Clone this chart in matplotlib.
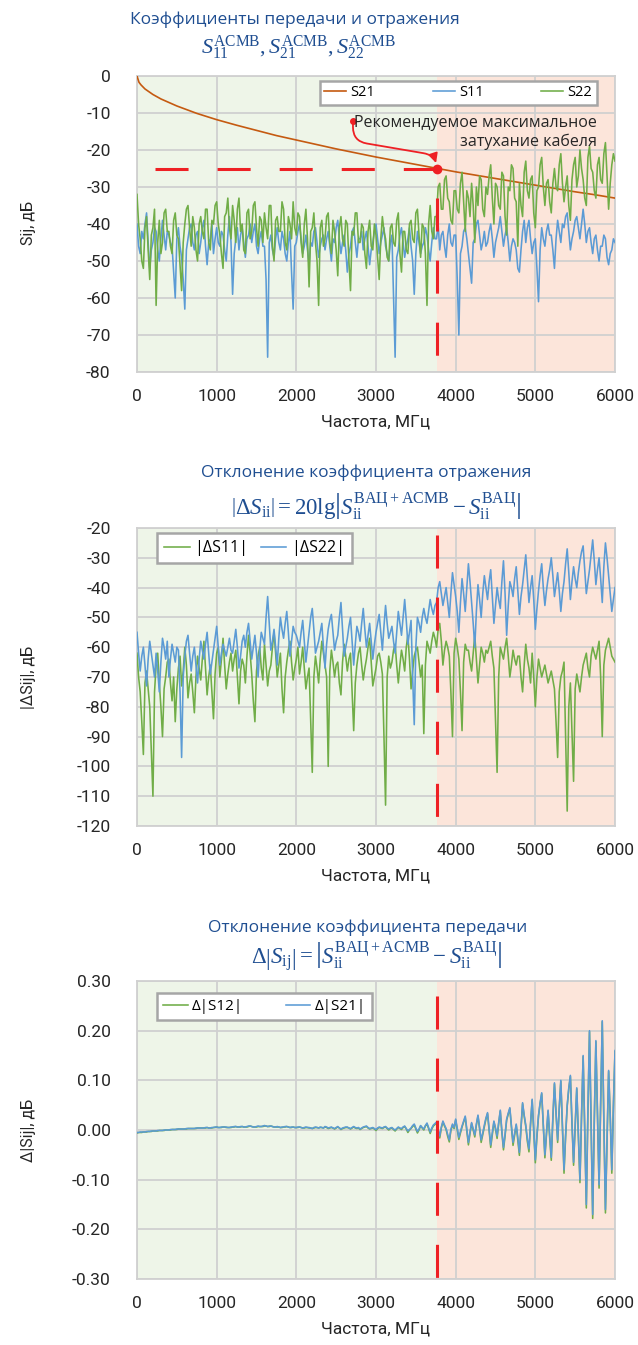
import numpy as np
import matplotlib
matplotlib.use("Agg")
import matplotlib.pyplot as plt

plt.rcParams['font.family'] = ['Open Sans', 'DejaVu Sans']
plt.rcParams['axes.unicode_minus'] = False
plt.rcParams['lines.scale_dashes'] = False
plt.rcParams['mathtext.fontset'] = 'custom'
plt.rcParams['mathtext.rm'] = 'Liberation Serif'
plt.rcParams['mathtext.it'] = 'Liberation Serif:italic'

# ---------------- данные ----------------
# S21: затухание кабеля (дБ)
s21_f = [0, 25, 50, 100, 200, 300, 500, 750, 1000, 1250, 1500, 1750, 2000, 2250, 2500,
         2750, 3000, 3250, 3500, 3750, 4000, 4250, 4500, 4750, 5000, 5250, 5500, 5750, 6000]
s21 = [0, -1.7, -2.4, -3.5, -5.0, -6.2, -8.1, -10.1, -11.8, -13.3, -14.7, -16.1, -17.3, -18.5, -19.7,
       -20.8, -21.9, -22.9, -23.9, -24.9, -25.9, -26.8, -27.7, -28.6, -29.5, -30.4, -31.3, -32.1, -33.0]

# шумовые кривые, шаг 20 МГц (по 400 МГц в строке)
freq = np.arange(0, 6001, 20)

s22 = [-32, -40, -44, -50, -52, -41, -38, -47, -55, -43, -41, -36, -62, -45, -39, -48, -45, -37, -36, -42,
       -42, -46, -48, -39, -37, -43, -44, -51, -58, -45, -40, -36, -35, -41, -46, -38, -41, -47, -50, -40,
       -38, -42, -44, -36, -36, -45, -47, -39, -40, -35, -34, -40, -43, -48, -52, -38, -37, -33, -41, -44,
       -35, -39, -45, -36, -33, -42, -40, -47, -48, -37, -36, -44, -42, -35, -34, -41, -46, -38, -39, -45,
       -37, -41, -44, -35, -35, -46, -50, -39, -38, -42, -42, -34, -36, -45, -47, -38, -40, -44, -34, -41,
       -43, -37, -38, -45, -49, -40, -36, -44, -57, -42, -41, -37, -45, -50, -62, -41, -39, -46, -44, -38,
       -37, -45, -48, -39, -42, -47, -54, -41, -38, -44, -46, -39, -40, -50, -58, -42, -43, -37, -37, -45,
       -45, -40, -41, -48, -52, -42, -39, -46, -47, -40, -43, -49, -55, -44, -38, -42, -44, -49, -50, -41,
       -40, -45, -46, -39, -37, -48, -53, -42, -42, -47, -48, -40, -39, -44, -45, -37, -36, -43, -49, -40,
       -41, -48, -62, -40, -35, -42, -44, -38, -38, -30, -29, -36, -36, -28, -27, -33, -34, -39, -40, -31,
       -31, -36, -37, -29, -26, -34, -42, -31, -33, -38, -29, -35, -45, -30, -35, -27, -28, -36, -38, -30,
       -32, -27, -24, -33, -40, -29, -30, -35, -36, -26, -27, -38, -43, -30, -31, -24, -25, -33, -34, -46,
       -29, -35, -38, -26, -23, -31, -33, -28, -27, -37, -41, -31, -30, -24, -22, -30, -35, -29, -28, -34,
       -37, -29, -25, -30, -31, -24, -21, -29, -34, -30, -27, -35, -39, -28, -24, -22, -30, -27, -20, -25,
       -28, -33, -35, -22, -19, -25, -26, -31, -33, -24, -22, -28, -29, -21, -18, -27, -36, -29, -24, -21,
       -23]

s11 = [-40, -46, -48, -42, -44, -40, -37, -45, -52, -47, -45, -41, -42, -47, -50, -44, -39, -43, -47, -42,
       -43, -45, -46, -53, -60, -44, -41, -46, -49, -55, -63, -47, -44, -41, -40, -45, -47, -43, -42, -48,
       -45, -41, -39, -46, -51, -45, -44, -40, -48, -44, -41, -45, -46, -42, -43, -47, -50, -43, -38, -45,
       -59, -48, -44, -41, -47, -43, -41, -45, -49, -44, -43, -40, -45, -42, -40, -46, -48, -44, -42, -46,
       -46, -55, -76, -45, -43, -47, -49, -44, -41, -45, -47, -42, -44, -48, -50, -45, -42, -53, -63, -46,
       -45, -42, -40, -44, -48, -46, -43, -47, -51, -45, -46, -42, -41, -45, -49, -46, -44, -43, -47, -44,
       -42, -46, -50, -44, -45, -41, -39, -44, -48, -45, -43, -47, -53, -48, -46, -42, -41, -45, -49, -44,
       -44, -42, -47, -44, -42, -46, -51, -47, -45, -42, -40, -44, -48, -45, -43, -41, -46, -48, -50, -45,
       -43, -60, -76, -49, -47, -43, -41, -45, -49, -46, -44, -41, -46, -50, -59, -48, -42, -45, -48, -46,
       -45, -41, -43, -47, -50, -45, -41, -44, -44, -40, -47, -43, -42, -46, -49, -43, -40, -45, -46, -43,
       -43, -55, -70, -48, -46, -42, -41, -44, -48, -52, -56, -45, -44, -40, -39, -43, -47, -45, -42, -46,
       -45, -42, -40, -44, -49, -45, -43, -41, -38, -42, -46, -43, -41, -45, -50, -46, -44, -45, -47, -52,
       -53, -47, -42, -39, -45, -41, -39, -44, -48, -45, -44, -52, -61, -47, -41, -44, -46, -42, -40, -43,
       -43, -47, -52, -44, -39, -42, -45, -40, -41, -38, -37, -42, -47, -44, -42, -39, -38, -41, -44, -40,
       -36, -40, -45, -42, -41, -45, -48, -44, -43, -47, -50, -46, -46, -43, -44, -49, -51, -48, -47, -44,
       -45]

ds11 = [-62, -70, -75, -85, -96, -72, -68, -74, -80, -95, -110, -75, -66, -62, -72, -80, -90, -74, -70, -65,
        -64, -72, -78, -70, -85, -74, -67, -63, -73, -68, -60, -66, -77, -72, -69, -75, -82, -70, -63, -67,
        -71, -64, -58, -67, -76, -70, -66, -75, -84, -69, -62, -60, -70, -64, -57, -66, -74, -69, -65, -62,
        -68, -64, -61, -70, -79, -68, -64, -66, -72, -63, -56, -62, -69, -78, -85, -68, -63, -60, -67, -71,
        -59, -66, -73, -68, -66, -60, -55, -62, -70, -66, -62, -74, -82, -70, -65, -61, -58, -65, -71, -67,
        -64, -60, -69, -65, -60, -67, -74, -70, -67, -85, -102, -70, -63, -67, -72, -64, -58, -62, -66, -70,
        -100, -68, -61, -65, -70, -66, -65, -72, -76, -65, -59, -63, -68, -64, -62, -75, -88, -72, -66, -62,
        -60, -66, -71, -67, -64, -60, -57, -65, -73, -70, -67, -63, -62, -65, -69, -90, -113, -70, -63, -67,
        -65, -61, -59, -66, -72, -66, -61, -64, -68, -60, -56, -64, -74, -68, -63, -61, -60, -65, -70, -66,
        -89, -66, -58, -60, -62, -58, -55, -57, -60, -54, -52, -58, -66, -61, -58, -60, -63, -75, -90, -62,
        -57, -60, -64, -75, -88, -65, -59, -61, -61, -65, -68, -62, -56, -64, -72, -66, -60, -62, -65, -61,
        -62, -60, -58, -63, -67, -85, -102, -70, -60, -62, -64, -60, -57, -63, -70, -66, -61, -64, -66, -63,
        -63, -70, -75, -66, -59, -64, -67, -72, -62, -70, -80, -70, -64, -67, -70, -68, -66, -69, -72, -70,
        -68, -71, -74, -85, -97, -75, -70, -68, -65, -90, -115, -80, -72, -88, -105, -74, -69, -72, -75, -70,
        -66, -64, -62, -67, -70, -63, -60, -62, -64, -61, -58, -70, -90, -66, -61, -59, -57, -60, -63, -64,
        -65]

ds22 = [-55, -62, -68, -63, -60, -66, -73, -64, -58, -62, -66, -70, -62, -68, -75, -65, -57, -60, -64, -58,
        -70, -64, -59, -62, -65, -60, -61, -75, -97, -70, -63, -58, -56, -62, -68, -63, -60, -66, -72, -64,
        -58, -61, -64, -59, -55, -62, -69, -65, -61, -57, -53, -60, -66, -62, -59, -61, -63, -60, -57, -61,
        -62, -58, -54, -60, -67, -63, -58, -56, -60, -55, -52, -58, -64, -60, -56, -62, -70, -61, -55, -57,
        -59, -50, -43, -52, -61, -58, -54, -60, -66, -57, -50, -54, -57, -52, -48, -55, -63, -58, -53, -55,
        -56, -58, -60, -55, -51, -58, -65, -60, -55, -50, -47, -54, -62, -60, -58, -55, -52, -60, -67, -59,
        -54, -51, -49, -55, -61, -58, -56, -50, -45, -54, -63, -60, -57, -53, -50, -58, -66, -59, -53, -55,
        -58, -52, -47, -54, -60, -56, -52, -58, -64, -59, -55, -52, -49, -55, -61, -53, -46, -52, -57, -55,
        -53, -58, -62, -55, -48, -52, -56, -50, -44, -51, -59, -55, -51, -70, -86, -60, -50, -52, -55, -50,
        -47, -50, -52, -48, -44, -47, -49, -46, -45, -40, -38, -42, -46, -43, -40, -45, -50, -42, -35, -39,
        -43, -48, -55, -45, -37, -42, -48, -40, -32, -38, -45, -52, -60, -48, -39, -44, -50, -42, -36, -40,
        -44, -38, -34, -43, -52, -46, -40, -44, -47, -38, -31, -42, -56, -46, -38, -40, -43, -37, -33, -41,
        -49, -43, -39, -34, -29, -37, -45, -40, -36, -44, -54, -47, -41, -36, -32, -40, -46, -41, -37, -34,
        -30, -36, -43, -39, -35, -41, -48, -42, -38, -32, -27, -35, -44, -38, -33, -37, -40, -35, -31, -28,
        -26, -34, -42, -38, -34, -29, -24, -31, -39, -34, -30, -37, -45, -33, -25, -30, -36, -42, -48, -44,
        -40]

dS21 = [-0.005, -0.005, -0.004, -0.004, -0.004, -0.004, -0.003, -0.003, -0.003, -0.002,
        -0.002, -0.002, -0.002, -0.001, -0.001, -0.001, -0.001, 0.000, 0.000, 0.000,
        0.000, 0.001, 0.001, 0.001, 0.001, 0.002, 0.002, 0.002, 0.002, 0.002,
        0.002, 0.003, 0.003, 0.003, 0.003, 0.003, 0.003, 0.004, 0.004, 0.004,
        0.004, 0.004, 0.004, 0.005, 0.005, 0.004, 0.004, 0.005, 0.005, 0.006,
        0.006, 0.005, 0.005, 0.006, 0.006, 0.006, 0.006, 0.005, 0.005, 0.006,
        0.006, 0.007, 0.007, 0.006, 0.006, 0.007, 0.007, 0.006, 0.006, 0.007,
        0.008, 0.008, 0.007, 0.006, 0.006, 0.007, 0.008, 0.007, 0.007, 0.008,
        0.009, 0.008, 0.007, 0.008, 0.008, 0.007, 0.006, 0.006, 0.007, 0.006,
        0.005, 0.006, 0.006, 0.007, 0.007, 0.006, 0.005, 0.006, 0.006, 0.005,
        0.005, 0.006, 0.006, 0.005, 0.004, 0.005, 0.006, 0.005, 0.005, 0.004,
        0.003, 0.005, 0.006, 0.005, 0.004, 0.006, 0.005, 0.004, 0.007, 0.006,
        0.004, 0.005, 0.006, 0.004, 0.003, 0.005, 0.007, 0.004, 0.002, 0.004,
        0.005, 0.006, 0.006, 0.004, 0.003, 0.005, 0.007, 0.005, 0.004, 0.005,
        0.002, 0.004, 0.006, 0.007, 0.008, 0.005, 0.003, 0.004, 0.005, 0.003,
        0.001, 0.004, 0.006, 0.005, 0.004, 0.006, 0.007, 0.004, 0.002, 0.004,
        0.005, 0.002, 0.000, 0.003, 0.006, 0.004, 0.003, 0.006, 0.008, 0.003,
        -0.002, 0.001, 0.004, 0.009, 0.012, 0.004, -0.003, 0.002, 0.009, 0.005,
        0.002, 0.009, 0.014, 0.005, -0.004, 0.004, 0.010, 0.013, 0.016, 0.001,
        -0.012, 0.006, 0.018, 0.010, 0.003, -0.009, -0.020, 0.001, 0.012, 0.005,
        0.022, 0.003, -0.015, -0.003, 0.008, 0.018, 0.028, 0.001, -0.025, -0.004,
        0.015, 0.002, -0.010, 0.012, 0.030, 0.005, -0.020, -0.006, 0.010, 0.024,
        0.035, 0.002, -0.030, -0.005, 0.018, 0.004, -0.012, 0.015, 0.040, -0.002,
        -0.035, -0.008, 0.022, 0.034, 0.045, 0.008, -0.025, -0.006, 0.012, -0.015,
        -0.045, 0.006, 0.055, 0.030, 0.010, -0.018, -0.038, 0.014, 0.062, 0.000,
        -0.060, -0.010, 0.030, 0.055, 0.075, 0.010, -0.050, -0.004, 0.040, -0.010,
        -0.055, 0.025, 0.095, 0.035, -0.020, 0.045, 0.100, 0.008, -0.080, -0.010,
        0.050, 0.085, 0.110, 0.015, -0.065, 0.010, 0.085, -0.005, -0.100, 0.030,
        0.150, 0.005, -0.150, 0.040, 0.200, 0.010, -0.170, 0.020, 0.180, 0.030,
        -0.110, 0.060, 0.220, 0.020, -0.160, -0.020, 0.120, 0.030, -0.080, 0.050,
        0.160]

dS12 = [-0.006, -0.005, -0.005, -0.005, -0.004, -0.004, -0.004, -0.003, -0.003, -0.003,
        -0.002, -0.002, -0.002, -0.002, -0.001, -0.001, -0.001, -0.001, 0.000, 0.000,
        0.000, 0.000, 0.001, 0.001, 0.001, 0.001, 0.002, 0.002, 0.002, 0.002,
        0.002, 0.002, 0.003, 0.003, 0.003, 0.003, 0.003, 0.003, 0.004, 0.004,
        0.004, 0.004, 0.004, 0.004, 0.005, 0.004, 0.004, 0.004, 0.005, 0.005,
        0.006, 0.005, 0.005, 0.005, 0.006, 0.006, 0.005, 0.005, 0.005, 0.005,
        0.006, 0.006, 0.007, 0.006, 0.006, 0.006, 0.007, 0.006, 0.006, 0.006,
        0.007, 0.008, 0.007, 0.006, 0.006, 0.006, 0.007, 0.007, 0.007, 0.007,
        0.008, 0.008, 0.007, 0.007, 0.008, 0.007, 0.006, 0.006, 0.006, 0.006,
        0.005, 0.005, 0.006, 0.006, 0.007, 0.006, 0.005, 0.005, 0.006, 0.005,
        0.005, 0.005, 0.006, 0.005, 0.004, 0.004, 0.005, 0.005, 0.004, 0.004,
        0.003, 0.004, 0.005, 0.005, 0.004, 0.005, 0.005, 0.004, 0.006, 0.005,
        0.003, 0.004, 0.005, 0.004, 0.002, 0.004, 0.006, 0.004, 0.001, 0.003,
        0.004, 0.005, 0.005, 0.004, 0.002, 0.004, 0.006, 0.004, 0.003, 0.004,
        0.001, 0.003, 0.005, 0.006, 0.007, 0.004, 0.002, 0.003, 0.004, 0.002,
        -0.001, 0.003, 0.005, 0.004, 0.003, 0.005, 0.006, 0.003, 0.000, 0.003,
        0.004, 0.001, -0.002, 0.002, 0.005, 0.003, 0.001, 0.005, 0.007, 0.002,
        -0.005, 0.000, 0.003, 0.007, 0.010, 0.002, -0.006, 0.000, 0.008, 0.004,
        0.000, 0.008, 0.012, 0.003, -0.007, 0.002, 0.008, 0.011, 0.014, -0.002,
        -0.016, 0.004, 0.016, 0.008, 0.001, -0.013, -0.024, -0.001, 0.010, 0.003,
        0.020, 0.001, -0.019, -0.006, 0.006, 0.016, 0.026, -0.002, -0.030, -0.007,
        0.013, 0.000, -0.014, 0.010, 0.028, 0.003, -0.025, -0.009, 0.008, 0.022,
        0.033, 0.000, -0.035, -0.009, 0.016, 0.002, -0.017, 0.013, 0.038, -0.005,
        -0.040, -0.012, 0.020, 0.032, 0.043, 0.006, -0.031, -0.010, 0.010, -0.020,
        -0.051, 0.003, 0.053, 0.028, 0.007, -0.023, -0.044, 0.011, 0.060, -0.003,
        -0.066, -0.014, 0.028, 0.053, 0.073, 0.007, -0.056, -0.008, 0.038, -0.015,
        -0.061, 0.022, 0.093, 0.032, -0.025, 0.042, 0.098, 0.005, -0.087, -0.014,
        0.048, 0.083, 0.108, 0.012, -0.071, 0.006, 0.083, -0.010, -0.106, 0.026,
        0.148, 0.001, -0.157, 0.036, 0.198, 0.006, -0.178, 0.016, 0.178, 0.026,
        -0.117, 0.056, 0.218, 0.016, -0.167, -0.025, 0.118, 0.026, -0.087, 0.046,
        0.158]

f_lim = 3766      # граница рекомендуемой полосы, МГц
att_lim = -25     # рекомендуемое максимальное затухание, дБ

# ---------------- оформление ----------------
GREEN = '#70AD47'
BLUE = '#5B9BD5'
ORANGE = '#C55A11'
RED = '#EE2024'
TITLE = '#1F4E91'
TICKFONT = ['Roboto', 'DejaVu Sans']
W, H = 638, 1345
LW = 1.15

fig = plt.figure(figsize=(W / 100, H / 100), dpi=100)


def make_axes(top_px, bottom_px):
    ax = fig.add_axes([137 / W, 1 - bottom_px / H, 478 / W, (bottom_px - top_px) / H])
    ax.axvspan(0, f_lim, color='#EEF5E8', zorder=0, lw=0)
    ax.axvspan(f_lim, 6000, color='#FCE5DA', zorder=0, lw=0)
    ax.set_axisbelow(True)
    ax.grid(True, color='#D0D0D0', lw=1.3)
    for sp in ax.spines.values():
        sp.set_color('#D0D0D0')
        sp.set_linewidth(1.3)
    ax.set_xlim(0, 6000)
    ax.set_xticks(range(0, 6001, 1000))
    ax.tick_params(length=0, labelsize=12.5, labelcolor='#262626')
    ax.tick_params(axis='x', pad=12)
    ax.tick_params(axis='y', pad=19)
    for lab in ax.get_xticklabels():
        lab.set_family(TICKFONT)
    fig.text(376 / W, 1 - (bottom_px + 50) / H, 'Частота, МГц', ha='center', va='center',
             fontsize=12.5, family=TICKFONT, color='#262626')
    return ax


def vdash(ax, y0, y1):
    ax.plot([f_lim, f_lim], [y0, y1], color=RED, lw=2.2, dashes=(23.8, 20.9), zorder=5)


def style_legend(leg):
    leg.get_frame().set_linewidth(1.8)
    leg.set_zorder(8)


# ---- график 1 ----
ax1 = make_axes(76, 372)
ax1.plot(s21_f, s21, color=ORANGE, lw=1.2, label='S21', zorder=3)
ax1.plot(freq, s11, color=BLUE, lw=LW, label='S11', zorder=3)
ax1.plot(freq, s22, color=GREEN, lw=LW, label='S22', zorder=3)
ax1.set_ylim(-80, 0)
ax1.set_yticks(range(-80, 1, 10))
for lab in ax1.get_yticklabels():
    lab.set_family(TICKFONT)
ax1.plot([226, f_lim], [att_lim, att_lim], color=RED, lw=2.2, dashes=(23.8, 20.9), zorder=5)
vdash(ax1, -33, -80)
ax1.plot([f_lim], [att_lim], 'o', color=RED, ms=6, zorder=6)
ax1.plot([2711], [-12.2], 'o', color=RED, ms=4, zorder=6)
ax1.annotate('', xy=(f_lim, att_lim), xytext=(2711, -12.2),
             arrowprops=dict(arrowstyle='-|>', color=RED, lw=1.3, shrinkA=0, shrinkB=4,
                             mutation_scale=14,
                             connectionstyle='arc,angleA=-90,angleB=90,armA=20,armB=13,rad=14'),
             zorder=6)
ax1.text(5774, -15.3, 'Рекомендуемое максимальное\nзатухание кабеля', ha='right', va='center',
         multialignment='right', fontsize=11.5, color='#262626', linespacing=1.25, zorder=7)
leg1 = ax1.legend(loc='upper left', bbox_to_anchor=(0.383, 0.902, 0.579, 0.081), mode='expand',
                  ncol=3, fontsize=10.5, handlelength=1.5, handletextpad=0.3, borderaxespad=0,
                  fancybox=False, framealpha=1, edgecolor='#A6A6A6', borderpad=0.3)
style_legend(leg1)
fig.text(295 / W, 1 - 20 / H, 'Коэффициенты передачи и отражения', ha='center', va='center',
         fontsize=12.5, color=TITLE)
fig.text(298 / W, 1 - 48 / H,
         r'$S_{11}^{\mathrm{АСМВ}}, S_{21}^{\mathrm{АСМВ}}, S_{22}^{\mathrm{АСМВ}}$',
         ha='center', va='center', fontsize=16, color=TITLE)
fig.text(29 / W, 1 - 223 / H, 'Sij, дБ', rotation=90, ha='center', va='center',
         fontsize=11.5, color='#262626', family=TICKFONT)

# ---- график 2 ----
ax2 = make_axes(528, 826)
ax2.plot(freq, ds11, color=GREEN, lw=LW, label='|ΔS11|', zorder=3)
ax2.plot(freq, ds22, color=BLUE, lw=LW, label='|ΔS22|', zorder=3)
ax2.set_ylim(-120, -20)
ax2.set_yticks(range(-120, -19, 10))
for lab in ax2.get_yticklabels():
    lab.set_family(TICKFONT)
vdash(ax2, -22.3, -120)
leg2 = ax2.legend(loc='upper left', bbox_to_anchor=(0.042, 0.876, 0.408, 0.107), mode='expand',
                  ncol=2, fontsize=11.5, handlelength=1.6, handletextpad=0.3, borderaxespad=0,
                  fancybox=False, framealpha=1, edgecolor='#A6A6A6', borderpad=0.45)
style_legend(leg2)
fig.text(366 / W, 1 - 473 / H, 'Отклонение коэффициента отражения', ha='center', va='center',
         fontsize=12.5, color=TITLE)
fig.text(376 / W, 1 - 507 / H,
         r'$\left|\Delta S_{\mathrm{ii}}\right| = 20\mathrm{lg}\left|S_{\mathrm{ii}}^{\mathrm{ВАЦ+АСМВ}} - S_{\mathrm{ii}}^{\mathrm{ВАЦ}}\right|$',
         ha='center', va='center', fontsize=16.5, color=TITLE)
fig.text(29 / W, 1 - 677 / H, '|ΔSij|, дБ', rotation=90, ha='center', va='center',
         fontsize=11.5, color='#262626', family=TICKFONT)

# ---- график 3 ----
ax3 = make_axes(981, 1279)
ax3.plot(freq, dS12, color=GREEN, lw=LW, label='Δ|S12|', zorder=3)
ax3.plot(freq, dS21, color=BLUE, lw=LW, label='Δ|S21|', zorder=3)
ax3.set_ylim(-0.3, 0.3)
yt3 = [-0.3, -0.2, -0.1, 0.0, 0.1, 0.2, 0.3]
ax3.set_yticks(yt3)
ax3.set_yticklabels(['%.2f' % v for v in yt3], family=TICKFONT)
vdash(ax3, 0.27, -0.3)
leg3 = ax3.legend(loc='upper left', bbox_to_anchor=(0.042, 0.859, 0.450, 0.101), mode='expand',
                  ncol=2, fontsize=11, handlelength=1.6, handletextpad=0.3, borderaxespad=0,
                  fancybox=False, framealpha=1, edgecolor='#A6A6A6', borderpad=0.4)
style_legend(leg3)
fig.text(368 / W, 1 - 928 / H, 'Отклонение коэффициента передачи', ha='center', va='center',
         fontsize=12.5, color=TITLE)
fig.text(377 / W, 1 - 957 / H,
         r'$\Delta\left|S_{\mathrm{ij}}\right| = \left|S_{\mathrm{ii}}^{\mathrm{ВАЦ+АСМВ}} - S_{\mathrm{ii}}^{\mathrm{ВАЦ}}\right|$',
         ha='center', va='center', fontsize=16.5, color=TITLE)
fig.text(29 / W, 1 - 1130 / H, 'Δ|Sij|, дБ', rotation=90, ha='center', va='center',
         fontsize=11.5, color='#262626', family=TICKFONT)

fig.savefig('out.png', dpi=100)
